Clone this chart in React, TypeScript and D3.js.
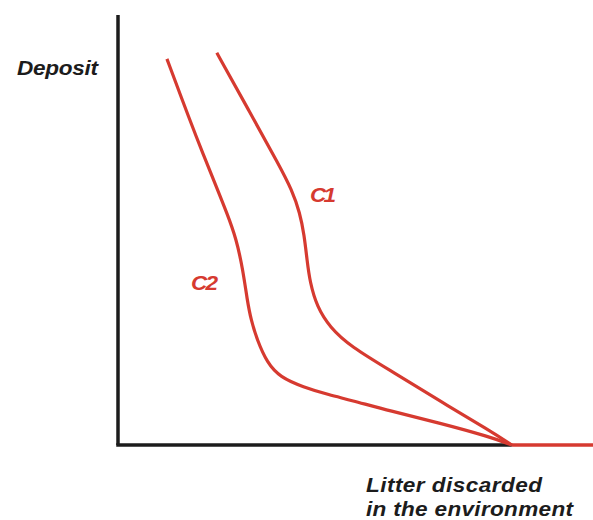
import React from "react";
import * as d3 from "d3";

// Curve data in chart units: x = litter discarded (0-100), y = deposit (0-100)
const c1X = [20.8, 27.4, 34.1, 36.6, 38.3, 39.2, 39.8, 40.4, 41.9, 44.6, 48.8, 58.3, 67.8, 78.3, 82.9];
const c1Y = [91.2, 78.1, 64.7, 59.3, 54.0, 48.8, 43.0, 37.9, 32.1, 27.4, 23.0, 16.7, 10.2, 3.3, 0];
const c2X = [10.3, 15.2, 17.9, 20.8, 22.9, 24.9, 26.3, 27.2, 28.0, 29.3, 31.4, 34.1, 38.9, 44.6, 48.8, 57.3, 67.8, 78.3, 82.9];
const c2Y = [89.8, 75.3, 67.7, 59.8, 54.0, 48.0, 40.7, 33.7, 29.1, 24.4, 19.1, 15.8, 13.5, 11.6, 10.5, 7.9, 5.1, 1.9, 0];
const tailX = [82.9, 100];
const tailY = [0, 0];

const yLabel = "Deposit";
const xLabelLines = ["Litter discarded", "in the environment"];
const seriesLabels = ["C1", "C2"];

const W = 593;
const H = 520;
const RED = "#d63a30";
const BLACK = "#1c1c1c";
const FONT = "'Liberation Sans', Arial, Helvetica, sans-serif";
const SX = 1.13;

export default function App() {
  const x = d3.scaleLinear().domain([0, 100]).range([118, 593]);
  const y = d3.scaleLinear().domain([0, 100]).range([445, 15]);

  const line = d3
    .line<[number, number]>()
    .x((d) => x(d[0]))
    .y((d) => y(d[1]))
    .curve(d3.curveBasis);

  const zip = (xs: number[], ys: number[]) => xs.map((v, i) => [v, ys[i]] as [number, number]);
  const c1 = zip(c1X, c1Y);
  const c2 = zip(c2X, c2Y);
  const tail = zip(tailX, tailY);

  const textStyle = {
    fontFamily: FONT,
    fontWeight: 700,
    fontStyle: "italic",
    fontSize: 20,
  } as React.CSSProperties;

  const Label = ({ tx, ty, len, fill, children }: { tx: number; ty: number; len: number; fill: string; children: string }) => (
    <text
      transform={`translate(${tx},${ty}) scale(${SX},1)`}
      textLength={len / SX}
      lengthAdjust="spacing"
      fill={fill}
      style={textStyle}
    >
      {children}
    </text>
  );

  return (
    <svg
      width={W}
      height={H}
      style={{ position: "absolute", left: 0, top: 0, background: "#fff" }}
    >
      {/* axes */}
      <line x1={x(0)} y1={y(100)} x2={x(0)} y2={y(0)} stroke={BLACK} strokeWidth={3.5} />
      <line x1={x(0) - 1.75} y1={y(0)} x2={x(c1X[c1X.length - 1])} y2={y(0)} stroke={BLACK} strokeWidth={3.5} />

      {/* curves */}
      <path d={line(c2) || ""} fill="none" stroke={RED} strokeWidth={3.2} />
      <path d={line(c1) || ""} fill="none" stroke={RED} strokeWidth={3.2} />
      <path d={d3.line()(tail.map((d) => [x(d[0]), y(d[1])] as [number, number])) || ""} fill="none" stroke={RED} strokeWidth={3.5} />

      {/* labels */}
      <Label tx={17} ty={75} len={81} fill={BLACK}>{yLabel}</Label>
      <Label tx={310} ty={202} len={26} fill={RED}>{seriesLabels[0]}</Label>
      <Label tx={191} ty={290} len={27} fill={RED}>{seriesLabels[1]}</Label>
      <Label tx={366} ty={492} len={176} fill={BLACK}>{xLabelLines[0]}</Label>
      <Label tx={366} ty={516} len={207} fill={BLACK}>{xLabelLines[1]}</Label>
    </svg>
  );
}
